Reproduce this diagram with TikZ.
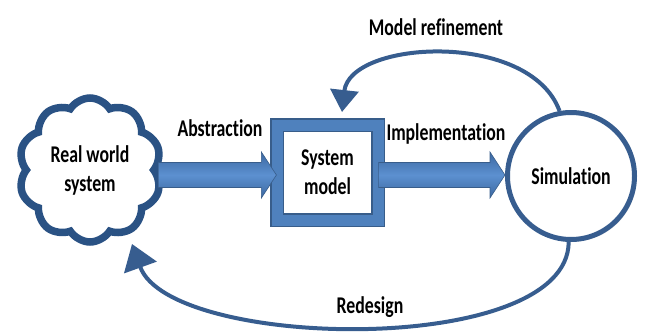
\documentclass[tikz,border=0pt]{standalone}
\usepackage{fontspec}
\setmainfont{Carlito}[FakeStretch=0.74, Ligatures=NoCommon]
\usetikzlibrary{shapes.symbols,arrows.meta,shadows,calc}

\definecolor{cloudblue}{RGB}{42,82,132}
\definecolor{loopblue}{RGB}{55,93,143}
\definecolor{accent}{RGB}{79,129,189}
\definecolor{accentdark}{RGB}{56,93,138}
\definecolor{shaftlight}{RGB}{92,144,208}
\definecolor{shaftdark}{RGB}{60,104,160}

\tikzset{
  lbl/.style={font=\bfseries\fontsize{24}{29}\selectfont, inner sep=0pt, align=center},
  worldcloud/.style={cloud, cloud puffs=10, cloud puff arc=115, draw=cloudblue,
    line width=7.5pt, fill=white, minimum width=143pt, minimum height=144pt,
    inner sep=0pt, lbl},
  modelbox/.style={rectangle, draw=accentdark, line width=1.2pt, double=accent,
    double distance=11pt, fill=white, minimum width=101pt, minimum height=95pt,
    inner sep=0pt, lbl},
  simcircle/.style={circle, draw=loopblue, line width=5pt, fill=white,
    minimum size=127pt, inner sep=0pt, lbl,
    drop shadow={opacity=0.25, shadow xshift=2pt, shadow yshift=-2pt}},
  fatarrow/.style={draw=accentdark, line width=0.6pt, top color=shaftdark,
    bottom color=shaftdark, middle color=shaftlight},
  looparrow/.style={draw=loopblue, line width=4pt,
    -{Triangle[width=34pt,length=25pt]}}
}

% thick block arrow from #1 to #2 along the horizontal line through #1
\newcommand\fatarrowpath[2]{%
  \path[fatarrow] let \p1=(#1), \p2=(#2) in
    (\x1,\y1+12.5pt) -- (\x2-15pt,\y1+12.5pt) -- (\x2-15pt,\y1+23pt) -- (\x2,\y1)
    -- (\x2-15pt,\y1-23pt) -- (\x2-15pt,\y1-12.5pt) -- (\x1,\y1-12.5pt) -- cycle;}

\begin{document}
\begin{tikzpicture}[x=1pt,y=-1pt]
  \useasboundingbox (0,0) rectangle (645,332);

  % the three stages
  \node[worldcloud] (rw) at (90,170) {Real world\\system};
  \node[modelbox] (sm) at (327.5,172.5) {System\\model};
  \node[simcircle] (sim) at (571,176) {Simulation};

  % forward block arrows
  \coordinate (abs-s) at (rw.east |- 0,175);
  \coordinate (abs-e) at (sm.west |- 0,175);
  \coordinate (imp-s) at (sm.east |- 0,175);
  \coordinate (imp-e) at (sim.west |- 0,175);
  \fatarrowpath{abs-s}{abs-e}
  \fatarrowpath{imp-s}{imp-e}

  % feedback loops
  \coordinate (mr-end) at (342,112);
  \coordinate (rd-end) at (132,244);
  \draw[looparrow, -{Triangle[width=28pt,length=22pt]}]
    (sim.100) .. controls (530,30) and (350,40) .. (mr-end);
  \draw[looparrow]
    (sim.-92) .. controls (568,358) and (170,350) .. (rd-end);

  % labels
  \node[lbl] (l-abs) at (220,128) {Abstraction};
  \node[lbl] (l-imp) at (446,134) {Implementation};
  \node[lbl] (l-mr) at (436,27) {Model refinement};
  \node[lbl] (l-rd) at (370,307) {Redesign};
\end{tikzpicture}
\end{document}
